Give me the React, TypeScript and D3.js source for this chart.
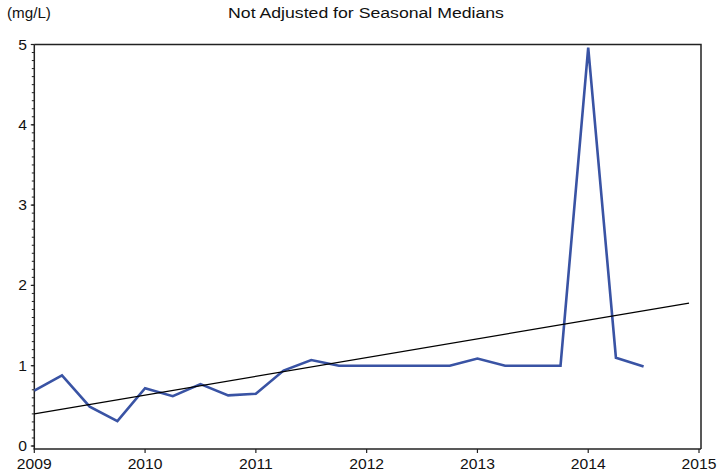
import * as d3 from 'd3';
import React, { FC, useEffect, useRef } from 'react';

// quarterly sample dates (decimal years) and concentrations (mg/L)
const dates = [
  2009.0, 2009.25, 2009.5, 2009.75, 2010.0, 2010.25, 2010.5, 2010.75,
  2011.0, 2011.25, 2011.5, 2011.75, 2012.0, 2012.25, 2012.5, 2012.75,
  2013.0, 2013.25, 2013.5, 2013.75, 2014.0, 2014.25, 2014.5
];
const values = [
  0.69, 0.88, 0.49, 0.31, 0.72, 0.62, 0.77, 0.63,
  0.65, 0.94, 1.07, 1.0, 1.0, 1.0, 1.0, 1.0,
  1.09, 1.0, 1.0, 1.0, 4.96, 1.1, 0.99
];
// trend line endpoints
const trendDates = [2009.0, 2014.91];
const trendValues = [0.4, 1.78];

const xTicks = [2009, 2010, 2011, 2012, 2013, 2014, 2015];
const yTicks = [0, 1, 2, 3, 4, 5];

const title = 'Not Adjusted for Seasonal Medians';
const unitLabel = '(mg/L)';

const App: FC = (): JSX.Element => {
  const ref = useRef<SVGSVGElement>(null);

  useEffect(() => {
    document.body.style.margin = '0';
    const width = 719;
    const height = 476;
    const svg = d3.select(ref.current).attr('width', width).attr('height', height);
    svg.selectAll('*').remove();

    const font = 'Arial, "Liberation Sans", sans-serif';
    const stretch = 1.12; // glyphs in the original are a bit wider than Arial

    const x = d3.scaleLinear().domain([2009, 2015]).range([34.3, 699]);
    const y = d3.scaleLinear().domain([0, 5]).range([446, 44.5]);
    const axisY = 449;
    const rightX = 701;

    // frame (top and right)
    svg
      .append('path')
      .attr('d', `M${x(2009)},${y(5)}H${rightX}V${axisY}`)
      .attr('fill', 'none')
      .attr('stroke', '#222')
      .attr('stroke-width', 1.5);

    // y axis
    svg
      .append('line')
      .attr('x1', x(2009))
      .attr('x2', x(2009))
      .attr('y1', y(5))
      .attr('y2', axisY)
      .attr('stroke', '#222')
      .attr('stroke-width', 1.5);

    const minor = d3.range(0, 5.001, 0.1);
    svg
      .append('g')
      .selectAll('line')
      .data(minor)
      .enter()
      .append('line')
      .attr('x1', x(2009) - 2.5)
      .attr('x2', x(2009))
      .attr('y1', (d) => y(d))
      .attr('y2', (d) => y(d))
      .attr('stroke', '#222')
      .attr('stroke-width', 1);

    svg
      .append('g')
      .selectAll('line')
      .data(yTicks)
      .enter()
      .append('line')
      .attr('x1', x(2009) - 3.5)
      .attr('x2', x(2009))
      .attr('y1', (d) => y(d))
      .attr('y2', (d) => y(d))
      .attr('stroke', '#222')
      .attr('stroke-width', 1.2);

    svg
      .append('g')
      .selectAll('text')
      .data(yTicks)
      .enter()
      .append('text')
      .attr('transform', (d) => `translate(27,${y(d) + 5}) scale(${stretch},1)`)
      .attr('text-anchor', 'end')
      .attr('font-family', font)
      .attr('font-size', 14)
      .attr('fill', '#111')
      .text((d) => d);

    // x axis
    svg
      .append('line')
      .attr('x1', x(2009) - 0.75)
      .attr('x2', rightX)
      .attr('y1', axisY)
      .attr('y2', axisY)
      .attr('stroke', '#222')
      .attr('stroke-width', 1.5);

    svg
      .append('g')
      .selectAll('line')
      .data(xTicks)
      .enter()
      .append('line')
      .attr('x1', (d) => x(d))
      .attr('x2', (d) => x(d))
      .attr('y1', axisY)
      .attr('y2', axisY + 4)
      .attr('stroke', '#222')
      .attr('stroke-width', 1.2);

    svg
      .append('g')
      .selectAll('text')
      .data(xTicks)
      .enter()
      .append('text')
      .attr('transform', (d) => `translate(${x(d)},468.5) scale(${stretch},1)`)
      .attr('text-anchor', 'middle')
      .attr('font-family', font)
      .attr('font-size', 14)
      .attr('fill', '#111')
      .text((d) => d);

    // series
    const pts = dates.map((d, i) => [d, values[i]] as [number, number]);
    const line = d3
      .line<[number, number]>()
      .x((d) => x(d[0]))
      .y((d) => y(d[1]));

    svg
      .append('path')
      .attr('d', line(pts))
      .attr('fill', 'none')
      .attr('stroke', '#3953a4')
      .attr('stroke-width', 2.6)
      .attr('stroke-linejoin', 'miter');

    const trend = trendDates.map((d, i) => [d, trendValues[i]] as [number, number]);
    svg
      .append('path')
      .attr('d', line(trend))
      .attr('fill', 'none')
      .attr('stroke', '#000')
      .attr('stroke-width', 1.2);

    // titles
    svg
      .append('text')
      .attr('transform', `translate(366,17.7) scale(1.14,1)`)
      .attr('text-anchor', 'middle')
      .attr('font-family', font)
      .attr('font-size', 15.5)
      .attr('fill', '#111')
      .text(title);

    svg
      .append('text')
      .attr('x', 7)
      .attr('y', 17.7)
      .attr('font-family', font)
      .attr('font-size', 15.2)
      .attr('fill', '#111')
      .text(unitLabel);
  }, []);

  return <svg ref={ref} />;
};

export default App;
